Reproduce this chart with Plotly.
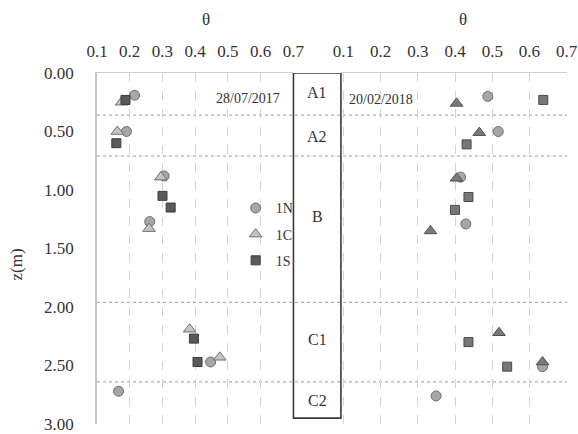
import plotly.graph_objects as go

# ---- data ----
series = ["1N", "1C", "1S"]

# 28/07/2017 (left panel)
left_theta = {
    "1N": [0.215, 0.190, 0.305, 0.261, 0.447, 0.166],
    "1C": [0.175, 0.162, 0.295, 0.259, 0.383, 0.475],
    "1S": [0.187, 0.159, 0.300, 0.325, 0.396, 0.407],
}
left_z = {
    "1N": [0.19, 0.50, 0.88, 1.27, 2.47, 2.72],
    "1C": [0.25, 0.50, 0.89, 1.33, 2.19, 2.43],
    "1S": [0.23, 0.60, 1.05, 1.15, 2.27, 2.47],
}

# 20/02/2018 (right panel)
right_theta = {
    "1N": [0.488, 0.516, 0.415, 0.429, 0.635, 0.349],
    "1C": [0.404, 0.465, 0.404, 0.334, 0.518, 0.635],
    "1S": [0.637, 0.431, 0.436, 0.400, 0.436, 0.540],
}
right_z = {
    "1N": [0.20, 0.50, 0.89, 1.29, 2.51, 2.76],
    "1C": [0.26, 0.51, 0.90, 1.35, 2.22, 2.47],
    "1S": [0.23, 0.61, 1.06, 1.17, 2.30, 2.51],
}

dates = ["28/07/2017", "20/02/2018"]
layers = ["A1", "A2", "B", "C1", "C2"]
layer_label_z = [0.17, 0.54, 1.23, 2.28, 2.80]
layer_bounds = [0.36, 0.71, 1.96, 2.64]
profile_bottom = 2.95

x_ticks = [0.1, 0.2, 0.3, 0.4, 0.5, 0.6, 0.7]
y_ticks = [0.0, 0.5, 1.0, 1.5, 2.0, 2.5, 3.0]

# ---- styles ----
FONT = "Liberation Serif"
TXT = "#333333"
sym = {"1N": "circle", "1C": "triangle-up", "1S": "square"}
size = {"1N": 10, "1C": 11, "1S": 9}
left_fill = {"1N": "#a6a6a6", "1C": "#c4c4c4", "1S": "#595959"}
left_line = {"1N": "#6e6e6e", "1C": "#707070", "1S": "#3c3c3c"}
right_fill = {"1N": "#a6a6a6", "1C": "#7a7a7a", "1S": "#777777"}
right_line = {"1N": "#6e6e6e", "1C": "#505050", "1S": "#4a4a4a"}

L_DOM = [0.0, 0.418]
R_DOM = [0.519, 1.0]

fig = go.Figure()
for s in series:
    fig.add_trace(go.Scatter(
        x=left_theta[s], y=left_z[s], mode="markers", name=s,
        xaxis="x", yaxis="y", legendgroup=s,
        marker=dict(symbol=sym[s], size=size[s], color=left_fill[s],
                    line=dict(color=left_line[s], width=1)),
    ))
for s in series:
    fig.add_trace(go.Scatter(
        x=right_theta[s], y=right_z[s], mode="markers", name=s,
        xaxis="x2", yaxis="y", showlegend=False,
        marker=dict(symbol=sym[s], size=size[s], color=right_fill[s],
                    line=dict(color=right_line[s], width=1)),
    ))

shapes = []
# layer boundaries
for b in layer_bounds:
    shapes.append(dict(type="line", xref="paper", yref="y", x0=0, x1=1, y0=b, y1=b,
                       line=dict(color="#9a9a9a", width=1, dash="dot"), layer="below"))
# soil profile box
shapes.append(dict(type="rect", xref="paper", yref="y", x0=L_DOM[1], x1=R_DOM[0],
                   y0=0, y1=profile_bottom, line=dict(color="#3a3a3a", width=1.6)))

ann = []
for name, zc in zip(layers, layer_label_z):
    ann.append(dict(text=name, xref="paper", yref="y", x=(L_DOM[1] + R_DOM[0]) / 2, y=zc,
                    showarrow=False, font=dict(family=FONT, size=16, color=TXT)))
ann.append(dict(text=dates[0], xref="x", yref="paper", x=0.56, y=0.955, showarrow=False,
                font=dict(family=FONT, size=14, color=TXT)))
ann.append(dict(text=dates[1], xref="x2", yref="paper", x=0.2, y=0.952, showarrow=False,
                font=dict(family=FONT, size=14, color=TXT)))
# axis titles
ann.append(dict(text="θ", xref="x", yref="paper", x=0.433,
                y=1.152, yanchor="middle", showarrow=False,
                font=dict(family=FONT, size=17, color=TXT)))
ann.append(dict(text="θ", xref="x2", yref="paper", x=0.42,
                y=1.152, yanchor="middle", showarrow=False,
                font=dict(family=FONT, size=17, color=TXT)))
ann.append(dict(text="z(m)", xref="paper", yref="paper", x=-0.172, y=0.455, textangle=-90,
                xanchor="center", yanchor="middle",
                showarrow=False, font=dict(family=FONT, size=17, color=TXT)))

axis_common = dict(
    side="top", tickvals=x_ticks, ticktext=[f"{v:.1f}" for v in x_ticks],
    showgrid=True, gridcolor="#d2d2d2", griddash="dash", gridwidth=1,
    showline=True, linecolor="#d0d0d0", linewidth=1, zeroline=False,
    ticks="", ticklabelstandoff=8, automargin=False,
    tickfont=dict(family=FONT, size=17, color=TXT),
)

fig.update_layout(
    width=578, height=434,
    margin=dict(l=97, r=11, t=73, b=10, autoexpand=False),
    paper_bgcolor="white", plot_bgcolor="white",
    shapes=shapes, annotations=ann,
    xaxis=dict(domain=L_DOM, range=[0.1, 0.7], anchor="y", **axis_common),
    xaxis2=dict(domain=R_DOM, range=[0.0933, 0.7008], anchor="y", **axis_common),
    yaxis=dict(range=[3.0, 0.0], tickvals=y_ticks, ticktext=[f"{v:.2f}" for v in y_ticks],
               showgrid=False, zeroline=False, showline=True, linecolor="#c4c4c4",
               linewidth=1.5, ticks="", ticklabelstandoff=18, automargin=False,
               tickfont=dict(family=FONT, size=17, color=TXT)),
    legend=dict(x=0.295, y=0.66, xanchor="left", yanchor="top", bgcolor="rgba(0,0,0,0)",
                font=dict(family=FONT, size=14, color=TXT), tracegroupgap=5,
                itemwidth=30),
    showlegend=True,
)

fig.write_html("out.html", config={"displayModeBar": False},
               post_script="document.body.style.margin='0';document.body.style.padding='0';")
